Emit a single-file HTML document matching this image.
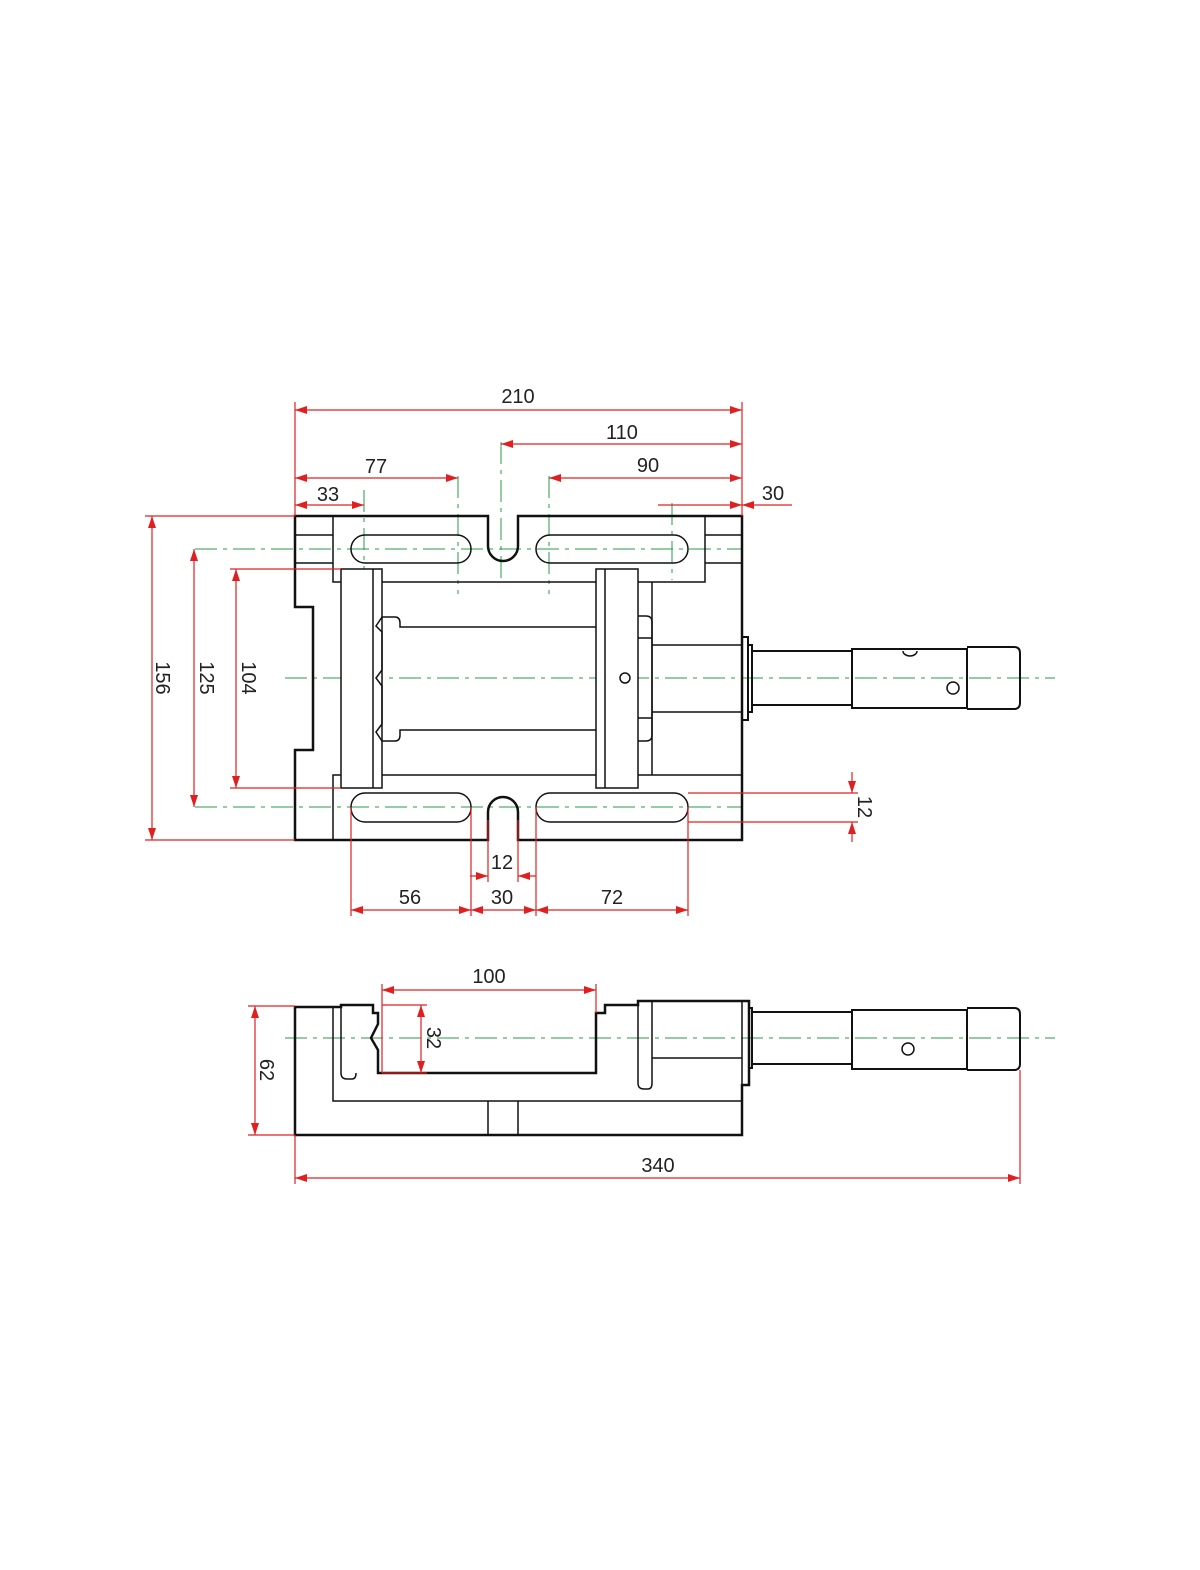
<!DOCTYPE html>
<html><head><meta charset="utf-8"><style>
html,body{margin:0;padding:0;background:#fff;}
svg{display:block;}
text{font-family:"Liberation Sans",sans-serif;font-size:20px;fill:#222;}
</style></head><body>
<svg width="1200" height="1570" viewBox="0 0 1200 1570" xmlns="http://www.w3.org/2000/svg">
<defs>
<marker id="a" viewBox="0 0 12 8" refX="12" refY="4" markerWidth="12" markerHeight="8" orient="auto-start-reverse" markerUnits="userSpaceOnUse"><path d="M0,0 L12,4 L0,8 z" fill="#e02020"/></marker>
</defs>
<!-- green center lines -->
<g stroke="#2a9a4a" stroke-width="1" stroke-dasharray="22,6,4,6" fill="none">
<line x1="285" y1="678" x2="1055" y2="678"/>
<line x1="195" y1="549" x2="742" y2="549"/>
<line x1="195" y1="807" x2="742" y2="807"/>
<line x1="364" y1="490" x2="364" y2="580"/>
<line x1="458" y1="476" x2="458" y2="594"/>
<line x1="501" y1="442" x2="501" y2="582"/>
<line x1="549" y1="476" x2="549" y2="594"/>
<line x1="672" y1="503" x2="672" y2="580"/>
<line x1="625" y1="655" x2="625" y2="702"/>
<line x1="285" y1="1038" x2="1055" y2="1038"/>
</g>
<!-- TOP VIEW black -->
<g stroke="#111" fill="none" stroke-width="1.5">
<path d="M295,516 H488 V546 A15,15 0 0 0 518,546 V516 H742 V840 H518 V812 A15,15 0 0 0 488,812 V840 H295 V750 H313 V607 H295 Z" stroke-width="2.5"/>
<path d="M333,516 V582 H705 V516"/>
<path d="M295,535 H333 M295,563 H333 M705,535 H742 M705,563 H742"/>
<path d="M333,840 V775 H742"/>
<rect x="351" y="535" width="120" height="28" rx="14"/>
<rect x="536" y="535" width="152" height="28" rx="14"/>
<rect x="351" y="793" width="120" height="29" rx="14"/>
<rect x="536" y="793" width="152" height="29" rx="14"/>
<rect x="341" y="569" width="41" height="219" fill="#fff"/>
<line x1="373" y1="569" x2="373" y2="788"/>
<rect x="596" y="569" width="42" height="219" fill="#fff"/>
<line x1="605" y1="569" x2="605" y2="788"/>
<path d="M382,617 L376,626 L382,632 L382,670 L376,678 L382,686 L382,724 L376,732 L382,741 H395 Q400,741 400,735 V730 H596 M382,617 H395 Q400,617 400,623 V627 H596"/>
<path d="M638,616 H646 Q652,616 652,622 V735 Q652,741 646,741 H638 M638,638 H652 M638,718 H652"/>
<path d="M652,645 H742 M652,712 H742 M652,582 V775"/>
<circle cx="625" cy="678" r="5"/>
<path d="M742,637 H748 V720 H742 M748,645 H752 V712 H748" stroke-width="2"/>
<!-- shaft top -->
<path d="M752,651 H852 V705 H752" stroke-width="2"/>
<path d="M852,649 H967 V708 H852 Z" stroke-width="2"/>
<path d="M967,647 H1014 Q1020,647 1020,653 V703 Q1020,709 1014,709 H967" stroke-width="2"/>
<path d="M903,651 A7,5 0 0 0 917,651"/>
<circle cx="953" cy="688" r="6"/>
<!-- SIDE VIEW -->
<path d="M295,1007 H341 V1005 H373 V1013 H378 V1024 L371,1038 L378,1050 V1073 H596 V1013 H605 V1005 H638 V1001 H749 V1085 H742 V1135 H295 Z" stroke-width="2.5"/>
<path d="M333,1007 V1101 H742 M488,1101 V1135 M518,1101 V1135"/>
<path d="M341,1005 V1073 Q341,1079 347,1079 H352 Q356,1079 356,1073 M638,1001 V1083 Q638,1089 644,1089 H648 Q652,1089 652,1083 V1001 M652,1058 H742 M742,1001 V1085"/>
<path d="M749,1008 H752 V1068 H749" stroke-width="2"/>
<path d="M752,1012 H852 V1064 H752" stroke-width="2"/>
<path d="M852,1010 H967 V1069 H852 Z" stroke-width="2"/>
<path d="M967,1008 H1014 Q1020,1008 1020,1014 V1064 Q1020,1070 1014,1070 H967" stroke-width="2"/>
<circle cx="908" cy="1049" r="6"/>
</g>
<!-- red dimensions -->
<g stroke="#e02020" stroke-width="1.2" fill="none">
<line x1="295" y1="402" x2="295" y2="516"/>
<line x1="742" y1="402" x2="742" y2="516"/>
<line x1="295" y1="410" x2="742" y2="410" marker-start="url(#a)" marker-end="url(#a)"/>
<line x1="501" y1="444" x2="742" y2="444" marker-start="url(#a)" marker-end="url(#a)"/>
<line x1="295" y1="478" x2="458" y2="478" marker-start="url(#a)" marker-end="url(#a)"/>
<line x1="549" y1="478" x2="742" y2="478" marker-start="url(#a)" marker-end="url(#a)"/>
<line x1="295" y1="505" x2="364" y2="505" marker-start="url(#a)" marker-end="url(#a)"/>
<line x1="658" y1="505" x2="742" y2="505" marker-end="url(#a)"/>
<line x1="792" y1="505" x2="742" y2="505" marker-end="url(#a)"/>
<line x1="145" y1="516" x2="295" y2="516"/>
<line x1="145" y1="840" x2="295" y2="840"/>
<line x1="152" y1="516" x2="152" y2="840" marker-start="url(#a)" marker-end="url(#a)"/>
<line x1="194" y1="549" x2="194" y2="807" marker-start="url(#a)" marker-end="url(#a)"/>
<line x1="230" y1="569" x2="341" y2="569"/>
<line x1="230" y1="788" x2="341" y2="788"/>
<line x1="236" y1="569" x2="236" y2="788" marker-start="url(#a)" marker-end="url(#a)"/>
<line x1="688" y1="793" x2="858" y2="793"/>
<line x1="688" y1="822" x2="858" y2="822"/>
<line x1="852" y1="772" x2="852" y2="793" marker-end="url(#a)"/>
<line x1="852" y1="842" x2="852" y2="822" marker-end="url(#a)"/>
<line x1="351" y1="807" x2="351" y2="916"/>
<line x1="471" y1="807" x2="471" y2="916"/>
<line x1="536" y1="807" x2="536" y2="916"/>
<line x1="688" y1="807" x2="688" y2="916"/>
<line x1="488" y1="820" x2="488" y2="882"/>
<line x1="518" y1="820" x2="518" y2="882"/>
<line x1="351" y1="910" x2="471" y2="910" marker-start="url(#a)" marker-end="url(#a)"/>
<line x1="471" y1="910" x2="536" y2="910" marker-start="url(#a)" marker-end="url(#a)"/>
<line x1="536" y1="910" x2="688" y2="910" marker-start="url(#a)" marker-end="url(#a)"/>
<line x1="470" y1="876" x2="488" y2="876" marker-end="url(#a)"/>
<line x1="536" y1="876" x2="518" y2="876" marker-end="url(#a)"/>
<!-- side dims -->
<line x1="382" y1="984" x2="382" y2="1073"/>
<line x1="596" y1="984" x2="596" y2="1013"/>
<line x1="382" y1="990" x2="596" y2="990" marker-start="url(#a)" marker-end="url(#a)"/>
<line x1="382" y1="1005" x2="427" y2="1005"/>
<line x1="382" y1="1073" x2="427" y2="1073"/>
<line x1="421" y1="1005" x2="421" y2="1073" marker-start="url(#a)" marker-end="url(#a)"/>
<line x1="248" y1="1006" x2="295" y2="1006"/>
<line x1="248" y1="1135" x2="295" y2="1135"/>
<line x1="255" y1="1006" x2="255" y2="1135" marker-start="url(#a)" marker-end="url(#a)"/>
<line x1="295" y1="1135" x2="295" y2="1184"/>
<line x1="1020" y1="1070" x2="1020" y2="1184"/>
<line x1="295" y1="1178" x2="1020" y2="1178" marker-start="url(#a)" marker-end="url(#a)"/>
</g>
<g text-anchor="middle">
<text x="518" y="403">210</text>
<text x="622" y="439">110</text>
<text x="376" y="473">77</text>
<text x="648" y="472">90</text>
<text x="328" y="501">33</text>
<text x="773" y="500">30</text>
<text x="410" y="904">56</text>
<text x="502" y="904">30</text>
<text x="612" y="904">72</text>
<text x="502" y="869">12</text>
<text x="489" y="983">100</text>
<text x="658" y="1172">340</text>
<text transform="translate(156,678) rotate(90)">156</text>
<text transform="translate(200,678) rotate(90)">125</text>
<text transform="translate(242,678) rotate(90)">104</text>
<text transform="translate(858,807) rotate(90)">12</text>
<text transform="translate(427,1038) rotate(90)">32</text>
<text transform="translate(260,1070) rotate(90)">62</text>
</g>
</svg>
</body></html>
